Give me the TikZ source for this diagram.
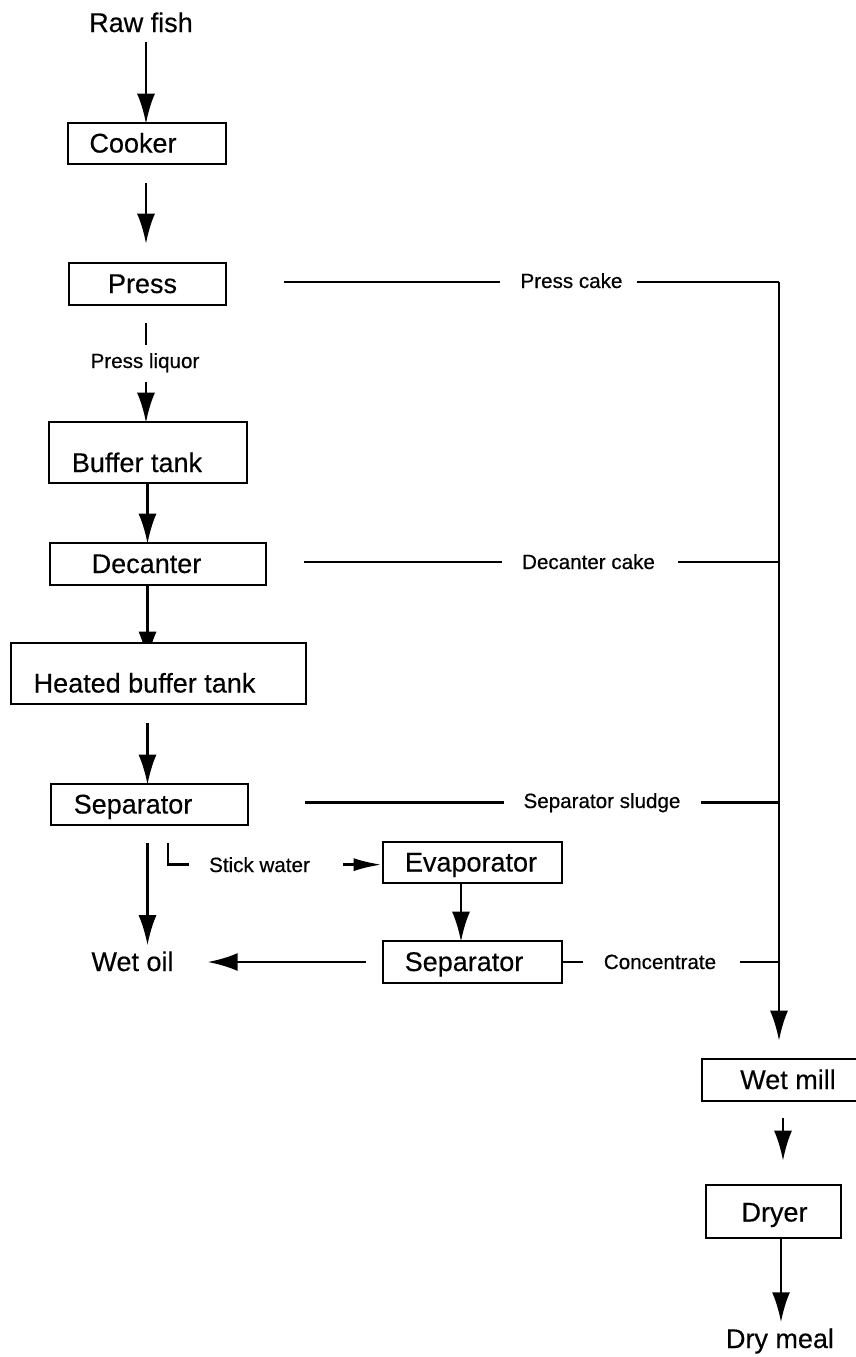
\documentclass[tikz,border=0pt]{standalone}
\usepackage{fontspec}
\setmainfont{Liberation Sans}
\usetikzlibrary{arrows.meta,calc,backgrounds}
\newcommand{\boxtext}[3]{\raisebox{-#1pt}[0pt][0pt]{#3\hspace{#2pt}}}
\tikzset{
  box/.style={draw=black,fill=white,line width=2.6pt,inner sep=0pt,font=\fontsize{27}{27}\selectfont\addfontfeatures{FakeBold=0.35}},
  big/.style={anchor=base,inner sep=0pt,font=\fontsize{27}{27}\selectfont\addfontfeatures{FakeBold=0.35}},
  small/.style={anchor=base,inner sep=0pt,font=\fontsize{20.6}{21}\selectfont\addfontfeatures{FakeBold=0.5}},
  wire/.style={line width=2.7pt},
  flow/.style={line width=2.7pt,shorten >=-2pt,-{Latex[length=30pt,width=18pt]}},
  shortflow/.style={line width=2.7pt,-{Latex[length=28pt,width=13pt]}}
}
\begin{document}
\begin{tikzpicture}[x=1pt,y=-1pt]
\useasboundingbox (0,0) rectangle (855,1357);
% column and row references
\coordinate (cA) at (146,0);
\coordinate (cB) at (147.5,0);
\coordinate (cL) at (168,0);
\coordinate (cE) at (461,0);
\coordinate (cT) at (779,0);
\coordinate (cM) at (783,0);
\coordinate (cD) at (781,0);
\coordinate (rP) at (0,282);
\coordinate (rD) at (0,562);
% boxes
\node[box,minimum width=158pt,minimum height=41pt] (cooker) at (147,143.5) {\boxtext{9}{28}{Cooker}};
\node[box,minimum width=157pt,minimum height=42pt] (press) at (147.5,284) {\boxtext{9}{10}{Press}};
\node[box,minimum width=198pt,minimum height=61pt] (buffer) at (148,452.5) {\boxtext{19.5}{22}{Buffer tank}};
\node[box,minimum width=216pt,minimum height=42pt] (decanter) at (158,564) {\boxtext{9}{23}{Decanter}};
\node[box,minimum width=295pt,minimum height=61pt] (heated) at (158.5,673.5) {\boxtext{19}{28}{Heated buffer tank}};
\node[box,minimum width=197pt,minimum height=41pt] (sep) at (149.5,804.5) {\boxtext{9}{33}{Separator}};
\node[box,minimum width=179pt,minimum height=41pt] (evap) at (472.5,862.5) {\boxtext{9}{3}{Evaporator}};
\node[box,minimum width=179pt,minimum height=42pt] (sep2) at (472.5,962) {\boxtext{9}{17}{Separator}};
\node[box,minimum width=156pt,minimum height=42pt] (wetmill) at (780,1080) {\boxtext{9}{-16}{Wet mill}};
\node[box,minimum width=135pt,minimum height=53pt] (dryer) at (773.5,1211.5) {\boxtext{10}{-2}{Dryer}};
% plain texts
\node[big] (raw) at (141,32) {Raw fish};
\node[big] (wetoil) at (132.5,971) {Wet oil};
\node[big] (dry) at (780,1348) {Dry meal};
\node[small] (liq) at (145,368) {Press liquor};
\node[small] (pc) at (571.5,288) {Press cake};
\node[small] (dc) at (588.5,569) {Decanter cake};
\node[small] (ss) at (602,808) {Separator sludge};
\node[small] (sw) at (259.5,872) {Stick water};
\node[small] (co) at (660,969) {Concentrate};
% main column
\draw[flow,shorten <=10pt] (raw.south -| cA) -- (cooker.north -| cA);
\draw[flow,shorten <=18pt,shorten >=18pt] (cooker.south -| cA) -- (press.north -| cA);
\draw[wire,shorten <=17pt,shorten >=8pt] (press.south -| cA) -- (liq.north -| cA);
\draw[flow,shorten <=10pt] (liq.south -| cA) -- (buffer.north -| cA);
\draw[flow] (buffer.south -| cB) -- (decanter.north -| cB);
\begin{scope}[on background layer]
\draw[flow,shorten >=-20pt] (decanter.south -| cB) -- (heated.north -| cB);
\end{scope}
\draw[flow,shorten <=18pt] (heated.south -| cB) -- (sep.north -| cB);
\draw[flow,shorten <=17pt,shorten >=6pt] (sep.south -| cB) -- (wetoil.north -| cB);
% stick water branch
\draw[wire,shorten <=17pt] (sep.south -| cL) -- (cL |- sw.west) -- ($(cL |- sw.west)+(21,0)$);
\draw[shortflow,shorten <=33pt] (sw.east) -- (evap.west |- sw.east);
\draw[flow] (evap.south -| cE) -- (sep2.north -| cE);
\draw[flow,shorten <=16pt,shorten >=34pt] (sep2.west) -- (wetoil.east |- sep2.west);
% side streams
\draw[wire,shorten <=57pt,shorten >=20pt] (press.east |- rP) -- (pc.west |- rP);
\draw[wire,shorten <=14pt] (pc.east |- rP) -- (cT |- rP);
\draw[wire,shorten <=37pt,shorten >=20pt] (decanter.east |- rD) -- (dc.west |- rD);
\draw[wire,shorten <=23pt] (dc.east |- rD) -- (cT |- rD);
\draw[wire,shorten <=56pt,shorten >=19pt] (sep.east |- ss.west) -- (ss.west);
\draw[wire,shorten <=20pt] (ss.east) -- (cT |- ss.east);
\draw[wire,shorten >=21pt] (sep2.east) -- (co.west |- sep2.east);
\draw[wire,shorten <=24pt] (co.east |- sep2.east) -- (cT |- sep2.east);
% trunk
\draw[flow,shorten >=17pt] (cT |- rP) -- (wetmill.north -| cT);
\draw[flow,shorten <=16pt,shorten >=23pt] (wetmill.south -| cM) -- (dryer.north -| cM);
\draw[flow,shorten >=6pt] (dryer.south -| cD) -- (dry.north -| cD);
\end{tikzpicture}
\end{document}
